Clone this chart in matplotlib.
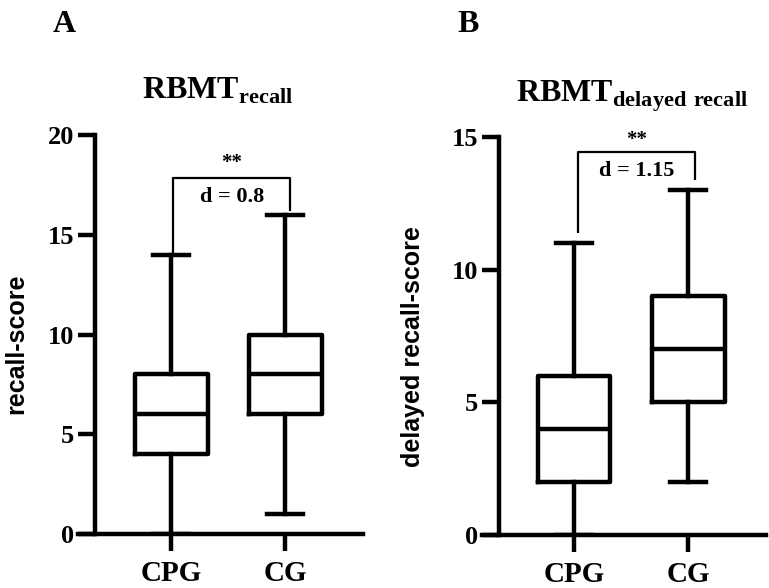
import matplotlib
matplotlib.use("Agg")
import matplotlib.pyplot as plt

plt.rcParams['mathtext.fontset'] = 'custom'
plt.rcParams['mathtext.rm'] = 'Liberation Serif'
plt.rcParams['mathtext.bf'] = 'Liberation Serif:bold'

# Dane
groups = ['CPG', 'CG']

# A: RBMT recall
a_min = [0, 1]
a_q1 = [4, 6]
a_med = [6, 8]
a_q3 = [8, 10]
a_max = [14, 16]
a_d = 'd = 0.8'

# B: RBMT delayed recall
b_min = [0, 2]
b_q1 = [2, 5]
b_med = [4, 7]
b_q3 = [6, 9]
b_max = [11, 13]
b_d = 'd = 1.15'

serif = 'Liberation Serif'
sans = 'Liberation Sans'
LW = 3.2

fig = plt.figure(figsize=(7.69, 5.88), dpi=100)


def panel(rect, mins, q1s, meds, q3s, maxs, ymax, step, ylab, ylab_xy,
          title, title_xy, letter, letter_xy, br, dtext):
    ax = fig.add_axes(rect)
    stats = []
    for lo, q1, med, q3, hi in zip(mins, q1s, meds, q3s, maxs):
        stats.append(dict(whislo=lo, q1=q1, med=med, q3=q3, whishi=hi, fliers=[]))
    ax.bxp(stats, positions=[1, 2], widths=0.64, capwidths=0.32, showfliers=False,
           boxprops=dict(lw=LW, color='black'),
           whiskerprops=dict(lw=LW, color='black'),
           capprops=dict(lw=LW, color='black'),
           medianprops=dict(lw=LW, color='black'))
    ax.set_xlim(br['xlim'])
    ax.set_ylim(0, ymax)
    for s in ['top', 'right']:
        ax.spines[s].set_visible(False)
    ax.spines['left'].set_position(('data', br['spine']))
    ax.spines['left'].set_bounds(0, ymax)
    ax.spines['left'].set_linewidth(LW)
    ax.spines['bottom'].set_linewidth(LW)
    ax.set_yticks(range(0, ymax + 1, step))
    ax.set_xticks([1, 2])
    ax.set_xticklabels(groups)
    ax.tick_params(axis='y', length=12, width=LW, pad=3, labelsize=19)
    ax.tick_params(axis='x', length=12, width=LW, pad=7, labelsize=21)
    for t in ax.get_yticklabels() + ax.get_xticklabels():
        t.set_fontfamily(serif)
        t.set_fontweight('bold')

    # Nawias istotności
    x1, x2 = br['x']
    y1, top, y2 = br['y']
    ax.plot([x1, x1, x2, x2], [y1, top, top, y2], color='black', lw=1.6,
            clip_on=False, solid_capstyle='butt')
    xc = (x1 + x2) / 2
    ax.text(xc, br['stars'], '**', ha='center', va='center', fontsize=15,
            fontfamily=serif, fontweight='bold')
    ax.text(xc, br['dy'], dtext, ha='center', va='center', fontsize=16,
            fontfamily=serif, fontweight='bold')

    fig.text(ylab_xy[0], ylab_xy[1], ylab, rotation=90, ha='center', va='center',
             fontsize=18, fontfamily=sans, fontweight='bold')
    fig.text(title_xy[0], title_xy[1], title, ha='center', va='baseline', fontsize=23)
    fig.text(letter_xy[0], letter_xy[1], letter, ha='left', va='baseline', fontsize=23,
             fontfamily=serif, fontweight='bold')
    return ax


panel([78 / 769, 54 / 588, 285 / 769, 399 / 588], a_min, a_q1, a_med, a_q3, a_max,
      20, 5, 'recall-score', (16.5 / 769, (588 - 344) / 588),
      r'$\mathbf{RBMT}_{\mathbf{recall}}$', (218 / 769, (588 - 99) / 588),
      'A', (53 / 769, (588 - 32) / 588),
      dict(xlim=(0.184, 2.684), spine=0.333, x=(1.02, 2.045),
           y=(14.0, 17.84, 16.2), stars=18.6, dy=16.9), a_d)

panel([482 / 769, 53 / 588, 284 / 769, 398 / 588], b_min, b_q1, b_med, b_q3, b_max,
      15, 5, 'delayed recall-score', (413 / 769, (588 - 347) / 588),
      r'$\mathbf{RBMT}_{\mathbf{delayed\ recall}}$', (632 / 769, (588 - 102) / 588),
      'B', (457 / 769, (588 - 32) / 588),
      dict(xlim=(0.193, 2.684), spine=0.342, x=(1.035, 2.06),
           y=(11.4, 14.44, 13.38), stars=14.9, dy=13.7), b_d)

fig.savefig('out.png', dpi=100)
